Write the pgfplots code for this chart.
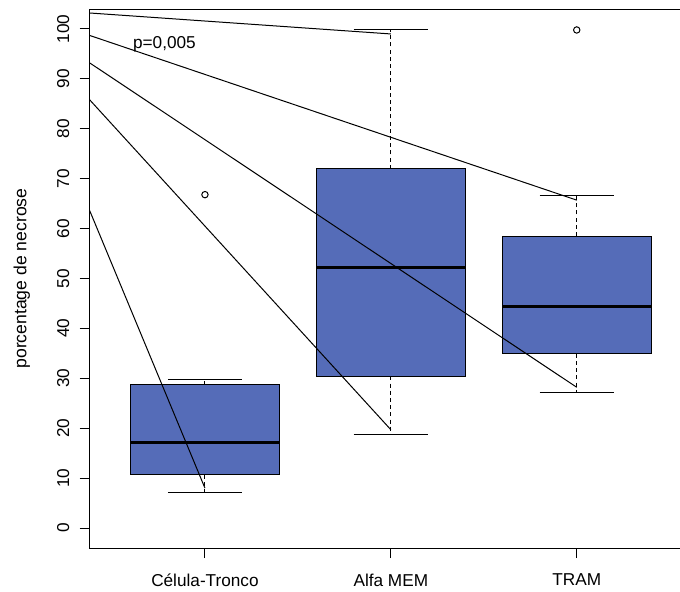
\documentclass[border=0pt]{standalone}
\usepackage{pgfplots}
\pgfplotsset{compat=1.18}
\usepackage{fontspec}
\setmainfont{Liberation Sans}
\definecolor{boxblue}{rgb}{0.333,0.424,0.722}
\pgfplotsset{
  rbox/.style={fill=boxblue, draw=black, line width=0.5pt},
  rmed/.style={black, line width=1.5pt},
  rwhisk/.style={black, line width=0.5pt, dash pattern=on 2pt off 1.6pt},
  rcap/.style={black, line width=0.5pt},
}
\begin{document}
\begin{tikzpicture}
\begin{axis}[
  scale only axis, width=301.15pt, height=269.5pt,
  xmin=0.38, xmax=3.62, ymin=-4, ymax=104,
  clip=false,
  xtick={1,2,3}, xticklabels={Célula-Tronco, Alfa MEM, TRAM},
  ytick={0,10,...,100},
  xtick pos=lower, ytick pos=left,
  tick align=outside, major tick length=5pt,
  tick style={black, line width=0.5pt},
  axis line style={draw=none},
  /pgf/number format/assume math mode=true,
  tick label style={font=\fontsize{8.6}{10}\selectfont},
  yticklabel style={xshift=-5pt, rotate=90, anchor=south, inner sep=0pt},
  xticklabel style={anchor=north, yshift=-4.5pt},
  ylabel={porcentage de necrose},
  ylabel style={at={(axis description cs:-0.1129,0.5)}, anchor=center, font=\fontsize{8.8}{10}\selectfont},
]
\draw[black, line width=0.5pt] (rel axis cs:0.98,0) -- (rel axis cs:0,0) -- (rel axis cs:0,1) -- (rel axis cs:0.98,1);
% Celula-Tronco
\addplot[rwhisk] coordinates {(1,28.7) (1,29.7)};
\addplot[rwhisk] coordinates {(1,10.7) (1,7.2)};
\addplot[rcap] coordinates {(0.8,29.7) (1.2,29.7)};
\addplot[rcap] coordinates {(0.8,7.2) (1.2,7.2)};
\addplot[rbox] coordinates {(0.6,10.7) (1.4,10.7) (1.4,28.7) (0.6,28.7) (0.6,10.7)};
\addplot[rmed] coordinates {(0.6,17.2) (1.4,17.2)};
% Alfa MEM
\addplot[rwhisk] coordinates {(2,72.0) (2,99.8)};
\addplot[rwhisk] coordinates {(2,30.4) (2,18.8)};
\addplot[rcap] coordinates {(1.8,99.8) (2.2,99.8)};
\addplot[rcap] coordinates {(1.8,18.8) (2.2,18.8)};
\addplot[rbox] coordinates {(1.6,30.4) (2.4,30.4) (2.4,72.0) (1.6,72.0) (1.6,30.4)};
\addplot[rmed] coordinates {(1.6,52.3) (2.4,52.3)};
% TRAM
\addplot[rwhisk] coordinates {(3,58.5) (3,66.6)};
\addplot[rwhisk] coordinates {(3,34.9) (3,27.2)};
\addplot[rcap] coordinates {(2.8,66.6) (3.2,66.6)};
\addplot[rcap] coordinates {(2.8,27.2) (3.2,27.2)};
\addplot[rbox] coordinates {(2.6,34.9) (3.4,34.9) (3.4,58.5) (2.6,58.5) (2.6,34.9)};
\addplot[rmed] coordinates {(2.6,44.4) (3.4,44.4)};
% outliers
\addplot[only marks, mark=o, mark size=1.6pt, mark options={black, line width=0.5pt}] coordinates {(1,66.8) (3,99.8)};
% lines
\addplot[black, line width=0.5pt] coordinates {(0.38,103.2) (2,99.0)};
\addplot[black, line width=0.5pt] coordinates {(0.38,98.7) (3,65.7)};
\addplot[black, line width=0.5pt] coordinates {(0.38,93.2) (3,28.2)};
\addplot[black, line width=0.5pt] coordinates {(0.38,85.8) (2,19.7)};
\addplot[black, line width=0.5pt] coordinates {(0.38,63.6) (1,8.0)};
\node[font=\fontsize{8.6}{10}\selectfont] at (axis cs:0.782,97) {p=0,005};
\end{axis}
\pgfresetboundingbox
\useasboundingbox (-44.85pt,-21.5pt) rectangle (295.15pt,274pt);
\end{tikzpicture}
\end{document}
